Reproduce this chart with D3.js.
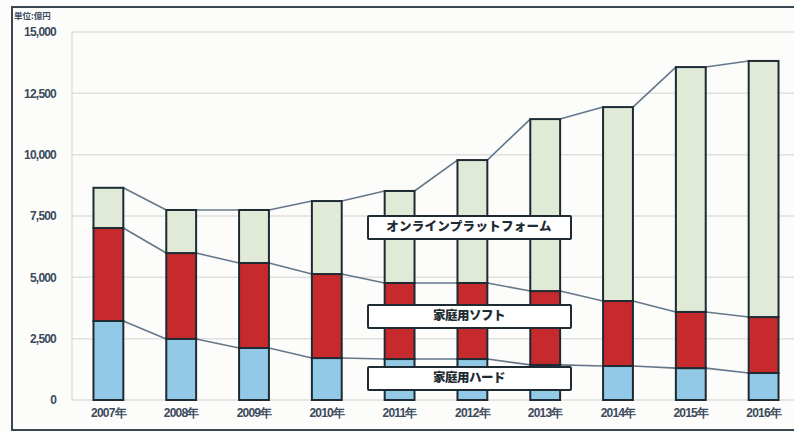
<!DOCTYPE html>
<html><head><meta charset="utf-8">
<script src="https://cdn.jsdelivr.net/npm/d3@7"></script>
<style>body{margin:0;background:#fff}svg{display:block}</style>
</head><body>
<svg id="c" width="794" height="433"></svg>
<script>
const years = ["2007年","2008年","2009年","2010年","2011年","2012年","2013年","2014年","2015年","2016年"];
const hard   = [3220, 2490, 2120, 1710, 1670, 1670, 1430, 1385, 1300, 1100];
const soft   = [3790, 3500, 3465, 3425, 3100, 3100, 3010, 2650, 2290, 2280];
const online = [1640, 1755, 2160, 2975, 3750, 5010, 7010, 7905, 9980, 10440];
const yTicks = [0, 2500, 5000, 7500, 10000, 12500, 15000];
const seriesKeys = ["hard","soft","online"];
const seriesLabels = ["家庭用ハード","家庭用ソフト","オンラインプラットフォーム"];
const colors = {hard:"#92c9e6", soft:"#c62a2c", online:"#e0ead7"};

const svg = d3.select("#c");
svg.append("rect").attr("width",794).attr("height",433).attr("fill","#fcfcfa");
svg.append("rect").attr("x",12).attr("y",7).attr("width",800).attr("height",423)
  .attr("fill","none").attr("stroke","#3a4652").attr("stroke-width",2);

const table = years.map((y,i)=>({year:y, hard:hard[i], soft:soft[i], online:online[i]}));
const stack = d3.stack().keys(seriesKeys)(table);

const x = d3.scaleBand().domain(years).range([72, 800]).paddingInner(0.59).paddingOuter(0.295);
const y = d3.scaleLinear().domain([0,15000]).range([400, 32]);

// grid
const grid = svg.append("g");
grid.selectAll("line").data(yTicks).join("line")
  .attr("x1",72).attr("x2",800).attr("y1",d=>y(d)).attr("y2",d=>y(d))
  .attr("stroke","#dfe1de").attr("stroke-width",1.5);
svg.append("line").attr("x1",72).attr("x2",72).attr("y1",y(15000)).attr("y2",y(0))
  .attr("stroke","#dfe1de").attr("stroke-width",1.5);

// y axis
const yAxis = d3.axisLeft(y).tickValues(yTicks).tickSize(0).tickPadding(0)
  .tickFormat(d=>d3.format(",")(d));
const ya = svg.append("g").attr("transform","translate(56,0)").call(yAxis);
ya.select(".domain").remove();
ya.selectAll("text").attr("font-family","Liberation Sans Narrow, Liberation Sans, sans-serif")
  .attr("font-size",12).attr("font-weight","bold").attr("fill","#3b4a5c").attr("letter-spacing","-0.8");

svg.append("text").attr("x",14).attr("y",19).text("単位:億円")
  .attr("font-family","Noto Sans CJK JP").attr("font-weight","bold").attr("font-size",8.5).attr("fill","#3b4a5c");

// x axis
const xAxis = d3.axisBottom(x).tickSize(0).tickPadding(0);
const xa = svg.append("g").attr("transform","translate(0,408)").call(xAxis);
xa.select(".domain").remove();
xa.selectAll("text").attr("font-family","Liberation Sans Narrow, Liberation Sans, sans-serif")
  .attr("font-size",12).attr("font-weight","bold").attr("fill","#3b4a5c").attr("dy","0.71em").attr("letter-spacing","-0.8");

// connector lines
const bw = x.bandwidth();
stack.forEach(s=>{
  for(let i=0;i<years.length-1;i++){
    svg.append("line")
      .attr("x1", x(years[i])+bw).attr("y1", y(s[i][1]))
      .attr("x2", x(years[i+1])).attr("y2", y(s[i+1][1]))
      .attr("stroke","#64788a").attr("stroke-width",1.6);
  }
});

// bars
svg.append("g").selectAll("g").data(stack).join("g")
  .attr("fill", d=>colors[d.key])
  .selectAll("rect").data(d=>d).join("rect")
  .attr("x", d=>x(d.data.year)).attr("width", bw)
  .attr("y", d=>y(d[1])).attr("height", d=>y(d[0])-y(d[1]))
  .attr("stroke","#1f2b33").attr("stroke-width",2);

// labels
const labelPos = [{key:"hard", y:378},{key:"soft", y:316},{key:"online", y:227}];
labelPos.forEach(l=>{
  const g = svg.append("g");
  g.append("rect").attr("x",368).attr("y",l.y-11).attr("width",203).attr("height",23)
    .attr("fill","#ffffff").attr("stroke","#1f2b33").attr("stroke-width",2).attr("rx",1);
  g.append("text").attr("x",469).attr("y",l.y).attr("dy","0.35em").attr("text-anchor","middle")
    .text(seriesLabels[seriesKeys.indexOf(l.key)])
    .attr("font-family","Noto Sans CJK JP").attr("font-weight","900").attr("font-size",12.5)
    .attr("fill","#1f2b33").attr("letter-spacing", l.key==="online"?"0.3":"-0.5");
});
</script>
</body></html>
